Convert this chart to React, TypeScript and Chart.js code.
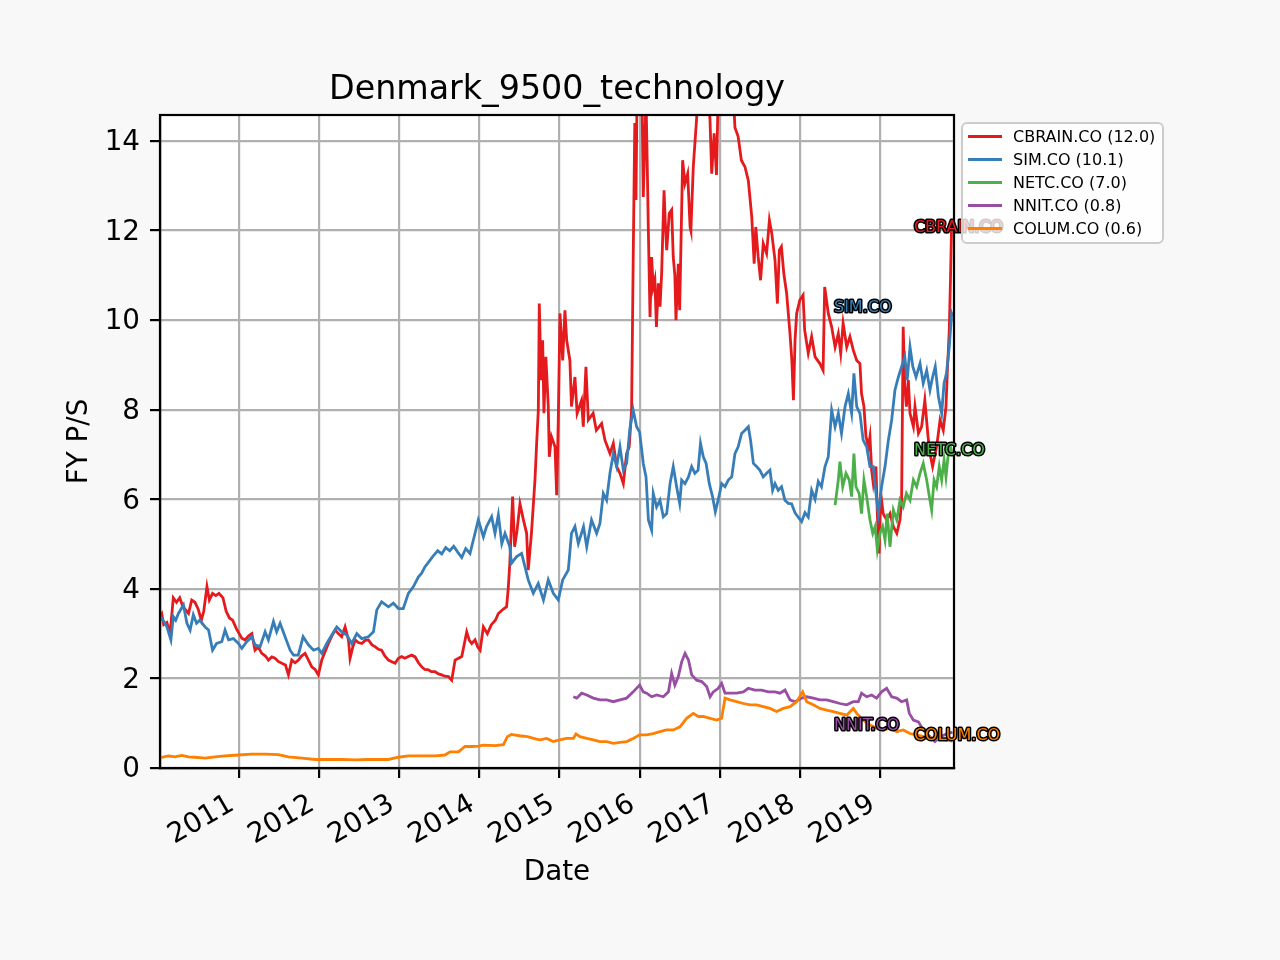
import React, { useEffect, useRef } from "react";
import { Chart, registerables } from "chart.js";

Chart.register(...registerables);

const TITLE = "Denmark_9500_technology";
const X_LABEL = "Date";
const Y_LABEL = "FY P/S";
const YEAR_TICKS = [2011, 2012, 2013, 2014, 2015, 2016, 2017, 2018, 2019];
const Y_TICKS = [0, 2, 4, 6, 8, 10, 12, 14];
const X_MIN = 2010.014;
const X_MAX = 2019.924;
const Y_MIN = 0;
const Y_MAX = 14.58;

const SERIES_NAMES = ["CBRAIN.CO", "SIM.CO", "NETC.CO", "NNIT.CO", "COLUM.CO"];
const SERIES_COLORS = ["#e41a1c", "#377eb8", "#4daf4a", "#984ea3", "#ff7f00"];
const LAST_VALUES = [12.0, 10.1, 7.0, 0.8, 0.6];
const LABEL_X = [2019.424, 2018.426, 2019.424, 2018.426, 2019.424];
const LABEL_Y = [12.06, 10.27, 7.08, 0.94, 0.72];

const CBRAIN: [number, number][] = [
  [2010.014, 3.4], [2010.035, 3.45], [2010.06, 3.2], [2010.1, 3.25], [2010.14, 3.0], [2010.18, 3.8], [2010.22, 3.7],
  [2010.26, 3.8], [2010.3, 3.6], [2010.37, 3.45], [2010.41, 3.75], [2010.45, 3.7], [2010.49, 3.55], [2010.53, 3.3],
  [2010.56, 3.5], [2010.6, 4.05], [2010.63, 3.75], [2010.67, 3.9], [2010.71, 3.85], [2010.75, 3.9], [2010.8, 3.8],
  [2010.84, 3.5], [2010.88, 3.35], [2010.92, 3.3], [2010.97, 3.1], [2011.035, 2.9], [2011.076, 2.86], [2011.12, 2.95],
  [2011.16, 3.0], [2011.2, 2.63], [2011.24, 2.7], [2011.284, 2.56], [2011.33, 2.5], [2011.367, 2.41], [2011.41, 2.48],
  [2011.45, 2.45], [2011.49, 2.38], [2011.534, 2.34], [2011.58, 2.3], [2011.617, 2.08], [2011.659, 2.41], [2011.7, 2.35],
  [2011.742, 2.41], [2011.78, 2.5], [2011.825, 2.56], [2011.87, 2.4], [2011.908, 2.26], [2011.95, 2.2], [2011.99, 2.08],
  [2012.033, 2.41], [2012.075, 2.6], [2012.116, 2.78], [2012.16, 2.95], [2012.2, 3.08], [2012.24, 3.0], [2012.282, 2.93],
  [2012.324, 3.15], [2012.366, 2.86], [2012.386, 2.45], [2012.42, 2.7], [2012.45, 2.86], [2012.49, 2.8], [2012.532, 2.78],
  [2012.575, 2.85], [2012.615, 2.86], [2012.66, 2.75], [2012.698, 2.71], [2012.74, 2.65], [2012.78, 2.63], [2012.82, 2.5],
  [2012.865, 2.41], [2012.9, 2.38], [2012.948, 2.34], [2012.99, 2.45], [2013.03, 2.49], [2013.07, 2.45], [2013.114, 2.49],
  [2013.155, 2.52], [2013.198, 2.48], [2013.24, 2.35], [2013.28, 2.26], [2013.32, 2.2], [2013.364, 2.19], [2013.4, 2.15],
  [2013.447, 2.15], [2013.49, 2.1], [2013.53, 2.08], [2013.57, 2.05], [2013.614, 2.04], [2013.655, 1.96], [2013.697, 2.41],
  [2013.74, 2.45], [2013.78, 2.49], [2013.81, 2.75], [2013.842, 3.04], [2013.875, 2.85], [2013.905, 2.78], [2013.946, 2.86],
  [2013.98, 2.7], [2014.01, 2.63], [2014.05, 3.15], [2014.1, 3.0], [2014.15, 3.2], [2014.2, 3.3], [2014.237, 3.45],
  [2014.3, 3.55], [2014.34, 3.6], [2014.36, 4.0], [2014.38, 4.57], [2014.415, 6.06], [2014.44, 4.94], [2014.47, 5.3],
  [2014.507, 5.9], [2014.55, 5.54], [2014.59, 5.24], [2014.61, 4.42], [2014.65, 5.24], [2014.694, 6.43], [2014.715, 7.25],
  [2014.736, 7.99], [2014.748, 10.37], [2014.77, 8.66], [2014.79, 9.55], [2014.806, 7.92], [2014.83, 9.18], [2014.86, 8.07],
  [2014.873, 6.95], [2014.9, 7.4], [2014.944, 7.17], [2014.965, 6.09], [2014.985, 7.77], [2015.006, 10.15], [2015.04, 9.1],
  [2015.068, 10.22], [2015.09, 9.55], [2015.13, 9.1], [2015.15, 8.07], [2015.193, 8.73], [2015.22, 7.92], [2015.276, 8.21],
  [2015.297, 7.62], [2015.33, 8.96], [2015.36, 7.77], [2015.42, 7.92], [2015.46, 7.54], [2015.526, 7.69], [2015.568, 7.32],
  [2015.63, 7.02], [2015.672, 7.25], [2015.714, 6.73], [2015.755, 6.58], [2015.797, 6.35], [2015.838, 7.02], [2015.87, 7.17],
  [2015.9, 7.99], [2015.92, 11.34], [2015.94, 14.4], [2015.955, 12.68], [2015.97, 15.5], [2016.0, 15.8], [2016.03, 15.0],
  [2016.046, 12.75], [2016.065, 14.0], [2016.08, 15.0], [2016.095, 13.5], [2016.11, 11.93], [2016.13, 10.07], [2016.15, 11.41],
  [2016.17, 10.74], [2016.19, 10.9], [2016.21, 9.85], [2016.233, 10.82], [2016.255, 10.3], [2016.275, 11.04], [2016.305, 12.9],
  [2016.32, 12.2], [2016.338, 11.56], [2016.37, 12.38], [2016.4, 12.46], [2016.42, 11.41], [2016.44, 11.0], [2016.454, 10.0],
  [2016.483, 11.26], [2016.5, 10.22], [2016.537, 13.57], [2016.566, 13.05], [2016.6, 13.27], [2016.63, 12.08], [2016.64, 12.0],
  [2016.67, 13.42], [2016.71, 14.46], [2016.73, 15.0], [2016.8, 15.3], [2016.86, 15.0], [2016.878, 14.5], [2016.9, 13.27],
  [2016.93, 14.17], [2016.96, 13.24], [2016.98, 15.0], [2017.08, 15.5], [2017.17, 15.0], [2017.19, 14.3], [2017.23, 14.1],
  [2017.27, 13.57], [2017.315, 13.42], [2017.357, 13.12], [2017.4, 12.3], [2017.43, 11.26], [2017.45, 12.08], [2017.48, 11.41],
  [2017.51, 10.89], [2017.543, 11.71], [2017.585, 11.49], [2017.62, 12.23], [2017.65, 11.93], [2017.69, 11.34], [2017.72, 10.37],
  [2017.744, 11.56], [2017.77, 11.64], [2017.8, 11.04], [2017.835, 10.6], [2017.877, 9.7], [2017.9, 9.1], [2017.92, 8.21],
  [2017.94, 9.55], [2017.96, 10.15], [2018.0, 10.45], [2018.04, 10.56], [2018.06, 9.78], [2018.105, 9.26], [2018.147, 9.63],
  [2018.19, 9.18], [2018.25, 9.03], [2018.29, 8.88], [2018.31, 10.74], [2018.355, 10.15], [2018.397, 9.85], [2018.44, 9.4],
  [2018.48, 9.7], [2018.51, 9.26], [2018.54, 9.93], [2018.585, 9.4], [2018.625, 9.63], [2018.667, 9.33], [2018.71, 9.1],
  [2018.75, 9.03], [2018.77, 8.36], [2018.8, 8.07], [2018.825, 7.4], [2018.855, 7.17], [2018.875, 7.4], [2018.896, 6.65],
  [2018.917, 6.35], [2018.95, 6.73], [2018.967, 5.68], [2018.99, 4.79], [2019.01, 6.13], [2019.04, 5.68], [2019.083, 5.54],
  [2019.125, 5.68], [2019.167, 5.39], [2019.21, 5.24], [2019.25, 5.54], [2019.27, 5.98], [2019.29, 9.85], [2019.31, 8.51],
  [2019.33, 8.07], [2019.354, 8.66], [2019.375, 7.92], [2019.417, 7.62], [2019.437, 8.07], [2019.48, 7.47], [2019.52, 7.62],
  [2019.56, 8.21], [2019.6, 7.4], [2019.624, 7.02], [2019.657, 6.73], [2019.69, 7.02], [2019.707, 7.17], [2019.75, 7.77],
  [2019.79, 7.54], [2019.824, 8.07], [2019.84, 8.81], [2019.865, 9.78], [2019.88, 10.9], [2019.895, 12.2], [2019.905, 12.0],
];

const SIM: [number, number][] = [
  [2010.014, 3.3], [2010.036, 3.34], [2010.07, 3.25], [2010.1, 3.15], [2010.15, 2.86], [2010.18, 3.38], [2010.21, 3.3],
  [2010.244, 3.45], [2010.307, 3.64], [2010.35, 3.23], [2010.39, 3.08], [2010.43, 3.42], [2010.47, 3.23], [2010.51, 3.3],
  [2010.577, 3.15], [2010.62, 3.08], [2010.67, 2.63], [2010.72, 2.78], [2010.785, 2.82], [2010.826, 3.08], [2010.87, 2.86],
  [2010.93, 2.89], [2010.993, 2.78], [2011.035, 2.67], [2011.097, 2.82], [2011.16, 2.93], [2011.2, 2.75], [2011.263, 2.71],
  [2011.326, 3.04], [2011.367, 2.86], [2011.43, 3.27], [2011.47, 3.04], [2011.513, 3.23], [2011.575, 2.93], [2011.638, 2.63],
  [2011.68, 2.52], [2011.74, 2.52], [2011.8, 2.93], [2011.866, 2.75], [2011.93, 2.63], [2011.99, 2.67], [2012.033, 2.56],
  [2012.095, 2.78], [2012.158, 2.97], [2012.22, 3.15], [2012.282, 3.04], [2012.345, 2.97], [2012.407, 2.78], [2012.47, 3.0],
  [2012.532, 2.89], [2012.615, 2.93], [2012.678, 3.04], [2012.72, 3.53], [2012.78, 3.71], [2012.865, 3.6], [2012.927, 3.68],
  [2012.99, 3.56], [2013.05, 3.56], [2013.114, 3.9], [2013.177, 4.05], [2013.24, 4.27], [2013.28, 4.35], [2013.32, 4.49],
  [2013.385, 4.64], [2013.43, 4.75], [2013.48, 4.85], [2013.53, 4.78], [2013.58, 4.92], [2013.63, 4.85], [2013.68, 4.95],
  [2013.73, 4.82], [2013.78, 4.7], [2013.83, 4.9], [2013.883, 4.79], [2013.925, 5.09], [2013.987, 5.54], [2014.05, 5.16],
  [2014.09, 5.39], [2014.153, 5.61], [2014.195, 5.24], [2014.237, 5.65], [2014.28, 5.01], [2014.32, 5.24], [2014.38, 4.94],
  [2014.4, 4.57], [2014.465, 4.72], [2014.527, 4.79], [2014.57, 4.49], [2014.61, 4.2], [2014.673, 3.9], [2014.735, 4.12],
  [2014.8, 3.75], [2014.86, 4.2], [2014.923, 3.9], [2014.985, 3.75], [2015.04, 4.2], [2015.11, 4.42], [2015.15, 5.24],
  [2015.193, 5.39], [2015.235, 5.01], [2015.3, 5.39], [2015.34, 4.94], [2015.4, 5.54], [2015.464, 5.24], [2015.505, 5.46],
  [2015.547, 6.13], [2015.588, 5.98], [2015.63, 6.58], [2015.672, 7.02], [2015.714, 6.73], [2015.755, 7.17], [2015.797, 6.65],
  [2015.838, 6.8], [2015.88, 7.6], [2015.92, 7.99], [2015.963, 7.62], [2016.0, 7.5], [2016.046, 6.8], [2016.08, 6.5],
  [2016.11, 5.54], [2016.15, 5.31], [2016.17, 6.13], [2016.212, 5.83], [2016.254, 5.98], [2016.296, 5.61], [2016.338, 5.68],
  [2016.38, 6.35], [2016.42, 6.73], [2016.462, 6.28], [2016.5, 5.91], [2016.525, 6.43], [2016.566, 6.35], [2016.61, 6.5],
  [2016.65, 6.73], [2016.69, 6.58], [2016.73, 6.65], [2016.76, 7.25], [2016.795, 6.95], [2016.83, 6.8], [2016.87, 6.35],
  [2016.91, 6.06], [2016.945, 5.72], [2016.98, 5.98], [2017.024, 6.35], [2017.065, 6.28], [2017.107, 6.43], [2017.15, 6.5],
  [2017.19, 7.02], [2017.23, 7.17], [2017.273, 7.47], [2017.315, 7.54], [2017.357, 7.62], [2017.385, 7.32], [2017.42, 6.8],
  [2017.46, 6.73], [2017.5, 6.65], [2017.543, 6.5], [2017.585, 6.58], [2017.627, 6.65], [2017.66, 6.2], [2017.69, 6.35],
  [2017.73, 6.2], [2017.772, 6.28], [2017.814, 5.98], [2017.855, 5.91], [2017.897, 5.9], [2017.94, 5.7], [2017.98, 5.6],
  [2018.022, 5.5], [2018.064, 5.7], [2018.105, 5.6], [2018.147, 6.2], [2018.19, 6.0], [2018.23, 6.4], [2018.27, 6.28],
  [2018.314, 6.73], [2018.355, 6.95], [2018.397, 7.99], [2018.44, 7.62], [2018.48, 7.92], [2018.52, 7.47], [2018.564, 8.07],
  [2018.605, 8.36], [2018.646, 7.92], [2018.675, 8.81], [2018.71, 8.07], [2018.75, 7.92], [2018.79, 7.32], [2018.834, 7.17],
  [2018.875, 6.73], [2018.917, 6.73], [2018.95, 6.13], [2018.98, 5.68], [2019.02, 6.28], [2019.063, 6.73], [2019.105, 7.32],
  [2019.146, 7.77], [2019.187, 8.44], [2019.23, 8.73], [2019.27, 8.96], [2019.31, 9.18], [2019.34, 8.66], [2019.375, 9.4],
  [2019.41, 8.96], [2019.45, 8.73], [2019.5, 9.03], [2019.54, 8.59], [2019.583, 8.88], [2019.624, 8.44], [2019.657, 8.73],
  [2019.69, 8.96], [2019.73, 8.29], [2019.77, 7.92], [2019.8, 8.59], [2019.83, 8.81], [2019.865, 9.4], [2019.895, 10.15],
  [2019.905, 10.1],
];

const NETC: [number, number][] = [
  [2018.44, 5.87], [2018.48, 6.43], [2018.5, 6.84], [2018.535, 6.28], [2018.576, 6.58], [2018.617, 6.43], [2018.646, 6.06],
  [2018.675, 7.02], [2018.7, 6.28], [2018.74, 6.13], [2018.77, 5.68], [2018.8, 6.43], [2018.834, 6.06], [2018.875, 5.54],
  [2018.91, 5.24], [2018.94, 5.39], [2018.967, 4.87], [2019.0, 5.24], [2019.033, 5.39], [2019.063, 5.09], [2019.09, 5.68],
  [2019.125, 4.94], [2019.167, 5.76], [2019.21, 5.54], [2019.25, 5.98], [2019.29, 5.83], [2019.33, 6.13], [2019.375, 5.98],
  [2019.417, 6.43], [2019.458, 6.28], [2019.5, 6.58], [2019.54, 6.8], [2019.583, 6.43], [2019.624, 5.98], [2019.645, 5.76],
  [2019.675, 6.43], [2019.707, 6.28], [2019.74, 6.73], [2019.77, 6.43], [2019.8, 6.88], [2019.824, 6.5], [2019.853, 7.02],
  [2019.88, 7.17], [2019.905, 7.0],
];

const NNIT: [number, number][] = [
  [2015.173, 1.59], [2015.215, 1.56], [2015.277, 1.67], [2015.34, 1.63], [2015.422, 1.56], [2015.506, 1.52], [2015.59, 1.52],
  [2015.672, 1.48], [2015.755, 1.52], [2015.838, 1.56], [2015.92, 1.7], [2016.0, 1.85], [2016.046, 1.7], [2016.088, 1.67],
  [2016.15, 1.59], [2016.213, 1.63], [2016.296, 1.59], [2016.36, 1.7], [2016.4, 2.11], [2016.44, 1.85], [2016.483, 2.04],
  [2016.525, 2.37], [2016.567, 2.56], [2016.61, 2.41], [2016.65, 2.08], [2016.712, 1.96], [2016.775, 1.93], [2016.837, 1.82],
  [2016.88, 1.59], [2016.92, 1.7], [2016.982, 1.78], [2017.024, 1.89], [2017.066, 1.67], [2017.128, 1.67], [2017.21, 1.67],
  [2017.295, 1.7], [2017.357, 1.78], [2017.44, 1.74], [2017.523, 1.74], [2017.606, 1.7], [2017.69, 1.7], [2017.752, 1.67],
  [2017.815, 1.74], [2017.877, 1.52], [2017.94, 1.48], [2018.022, 1.56], [2018.085, 1.59], [2018.168, 1.56], [2018.25, 1.52],
  [2018.334, 1.52], [2018.417, 1.48], [2018.5, 1.44], [2018.584, 1.41], [2018.667, 1.48], [2018.73, 1.48], [2018.77, 1.67],
  [2018.834, 1.59], [2018.896, 1.63], [2018.958, 1.56], [2019.02, 1.7], [2019.083, 1.78], [2019.146, 1.59], [2019.208, 1.56],
  [2019.27, 1.48], [2019.333, 1.52], [2019.366, 1.22], [2019.416, 1.07], [2019.48, 1.03], [2019.54, 0.85], [2019.624, 0.7],
  [2019.686, 0.59], [2019.75, 0.7], [2019.82, 0.75], [2019.905, 0.8],
];

const COLUM: [number, number][] = [
  [2010.014, 0.24], [2010.036, 0.24], [2010.12, 0.27], [2010.2, 0.25], [2010.286, 0.28], [2010.37, 0.25], [2010.45, 0.24],
  [2010.577, 0.22], [2010.7, 0.25], [2010.826, 0.27], [2010.993, 0.29], [2011.16, 0.31], [2011.326, 0.31], [2011.49, 0.3],
  [2011.617, 0.25], [2011.784, 0.22], [2011.95, 0.19], [2012.116, 0.19], [2012.283, 0.19], [2012.45, 0.18], [2012.615, 0.19],
  [2012.865, 0.19], [2012.99, 0.24], [2013.114, 0.27], [2013.28, 0.27], [2013.447, 0.27], [2013.57, 0.29], [2013.634, 0.36],
  [2013.74, 0.36], [2013.82, 0.48], [2013.905, 0.48], [2013.988, 0.49], [2014.05, 0.51], [2014.2, 0.5], [2014.3, 0.52],
  [2014.35, 0.7], [2014.4, 0.75], [2014.5, 0.72], [2014.6, 0.7], [2014.7, 0.65], [2014.757, 0.63], [2014.84, 0.66],
  [2014.923, 0.59], [2015.0, 0.63], [2015.09, 0.66], [2015.173, 0.66], [2015.206, 0.76], [2015.256, 0.7], [2015.34, 0.66],
  [2015.423, 0.63], [2015.506, 0.59], [2015.59, 0.59], [2015.672, 0.55], [2015.755, 0.57], [2015.838, 0.59], [2015.92, 0.66],
  [2016.0, 0.74], [2016.088, 0.74], [2016.17, 0.77], [2016.254, 0.81], [2016.337, 0.85], [2016.42, 0.85], [2016.504, 0.92],
  [2016.587, 1.11], [2016.67, 1.22], [2016.733, 1.15], [2016.795, 1.15], [2016.88, 1.11], [2016.962, 1.07], [2017.024, 1.11],
  [2017.066, 1.56], [2017.128, 1.52], [2017.21, 1.48], [2017.295, 1.44], [2017.378, 1.41], [2017.46, 1.41], [2017.544, 1.37],
  [2017.627, 1.33], [2017.71, 1.26], [2017.794, 1.33], [2017.877, 1.37], [2017.96, 1.48], [2018.035, 1.7], [2018.085, 1.48],
  [2018.168, 1.41], [2018.25, 1.33], [2018.334, 1.29], [2018.417, 1.26], [2018.5, 1.22], [2018.584, 1.18], [2018.667, 1.33],
  [2018.71, 1.22], [2018.792, 1.07], [2018.875, 0.96], [2018.958, 0.89], [2019.042, 0.85], [2019.125, 0.89], [2019.208, 0.81],
  [2019.29, 0.85], [2019.374, 0.77], [2019.457, 0.74], [2019.6, 0.68], [2019.75, 0.65], [2019.905, 0.6],
];

const SERIES = [CBRAIN, SIM, NETC, NNIT, COLUM];

const FONT = '"DejaVu Sans", "Liberation Sans", sans-serif';

const decorPlugin = {
  id: "decor",
  beforeDraw(chart: any) {
    const { ctx, chartArea: a } = chart;
    ctx.save();
    ctx.fillStyle = "#f8f8f8";
    ctx.fillRect(0, 0, chart.width, chart.height);
    ctx.fillStyle = "#ffffff";
    ctx.fillRect(a.left, a.top, a.right - a.left, a.bottom - a.top);
    ctx.restore();
  },
  afterDatasetsDraw(chart: any) {
    const { ctx, chartArea: a } = chart;
    ctx.save();
    ctx.strokeStyle = "#000";
    ctx.lineWidth = 2.2;
    ctx.strokeRect(a.left, a.top, a.right - a.left, a.bottom - a.top);
    ctx.restore();
  },
  afterDraw(chart: any) {
    const { ctx, chartArea: a } = chart;
    const xs = chart.scales.x;
    const ys = chart.scales.y;
    const cx = (a.left + a.right) / 2;
    const cy = (a.top + a.bottom) / 2;
    ctx.save();
    ctx.fillStyle = "#000";
    ctx.textAlign = "center";
    ctx.textBaseline = "alphabetic";
    ctx.font = `33.3px ${FONT}`;
    ctx.fillText(TITLE, cx, a.top - 16);
    ctx.font = `27.8px ${FONT}`;
    ctx.fillText(X_LABEL, cx, a.bottom + 112);
    ctx.save();
    ctx.translate(87, cy);
    ctx.rotate(-Math.PI / 2);
    ctx.fillText(Y_LABEL, 0, 0);
    ctx.restore();

    // end-of-series labels
    ctx.font = `16px ${FONT}`;
    ctx.textAlign = "left";
    ctx.textBaseline = "middle";
    ctx.lineJoin = "round";
    SERIES_NAMES.forEach((name, i) => {
      const x = xs.getPixelForValue(LABEL_X[i]);
      const y = ys.getPixelForValue(LABEL_Y[i]);
      ctx.strokeStyle = "#000";
      ctx.lineWidth = 3;
      ctx.strokeText(name, x, y);
      ctx.fillStyle = SERIES_COLORS[i];
      ctx.fillText(name, x, y);
    });

    // legend
    const lx = a.right + 8;
    const ly = a.top + 8;
    const lw = 201;
    const lh = 120;
    ctx.beginPath();
    ctx.roundRect(lx, ly, lw, lh, 5);
    ctx.fillStyle = "rgba(255,255,255,0.8)";
    ctx.fill();
    ctx.strokeStyle = "#cccccc";
    ctx.lineWidth = 2;
    ctx.stroke();
    ctx.font = `16px ${FONT}`;
    ctx.textAlign = "left";
    ctx.textBaseline = "middle";
    SERIES_NAMES.forEach((name, i) => {
      const y = ly + 13.5 + i * 23;
      ctx.strokeStyle = SERIES_COLORS[i];
      ctx.lineWidth = 2.8;
      ctx.beginPath();
      ctx.moveTo(lx + 6, y);
      ctx.lineTo(lx + 40, y);
      ctx.stroke();
      ctx.fillStyle = "#000";
      ctx.fillText(`${name} (${LAST_VALUES[i].toFixed(1)})`, lx + 51, y + 1.5);
    });
    ctx.restore();
  },
};

export default function App() {
  const ref = useRef<HTMLCanvasElement | null>(null);
  useEffect(() => {
    if (!ref.current) return;
    const chart = new Chart(ref.current, {
      type: "line",
      data: {
        datasets: SERIES.map((s, i) => ({
          label: SERIES_NAMES[i],
          data: s.map(([x, y]) => ({ x, y })),
          borderColor: SERIES_COLORS[i],
          backgroundColor: SERIES_COLORS[i],
          borderWidth: 2.8,
          pointRadius: 0,
          tension: 0,
          fill: false,
          order: SERIES.length - 1 - i,
        })),
      },
      options: {
        responsive: false,
        animation: false,
        devicePixelRatio: 1,
        events: [],
        layout: { padding: { top: 115, right: 326, left: 0, bottom: 0 } },
        plugins: {
          legend: { display: false },
          title: { display: false },
          tooltip: { enabled: false },
        },
        scales: {
          x: {
            type: "linear",
            min: X_MIN,
            max: X_MAX,
            afterBuildTicks: (s: any) => {
              s.ticks = YEAR_TICKS.map((v) => ({ value: v }));
            },
            afterFit: (s: any) => {
              s.height = 192;
            },
            grid: {
              color: "#b0b0b0",
              lineWidth: 2.2,
              tickColor: "#000",
              tickLength: 10,
              tickWidth: 2.2,
            },
            border: { display: true, color: "#000", width: 2.2 },
            ticks: {
              autoSkip: false,
              minRotation: 30,
              maxRotation: 30,
              padding: 10,
              labelOffset: -7,
              color: "#000",
              font: { family: FONT, size: 27.8 },
              callback: (v: any) => String(v),
            },
          },
          y: {
            type: "linear",
            min: Y_MIN,
            max: Y_MAX,
            afterBuildTicks: (s: any) => {
              s.ticks = Y_TICKS.map((v) => ({ value: v }));
            },
            afterFit: (s: any) => {
              s.width = 160;
            },
            grid: {
              color: "#b0b0b0",
              lineWidth: 2.2,
              tickColor: "#000",
              tickLength: 10,
              tickWidth: 2.2,
            },
            border: { display: true, color: "#000", width: 2.2 },
            ticks: {
              padding: 10,
              labelOffset: 2,
              color: "#000",
              font: { family: FONT, size: 27.8 },
              callback: (v: any) => String(v),
            },
          },
        },
      },
      plugins: [decorPlugin],
    } as any);
    return () => chart.destroy();
  }, []);
  return (
    <div style={{ position: "fixed", left: 0, top: 0, width: 1280, height: 960 }}>
      <canvas ref={ref} width={1280} height={960} style={{ display: "block", width: 1280, height: 960 }} />
    </div>
  );
}
